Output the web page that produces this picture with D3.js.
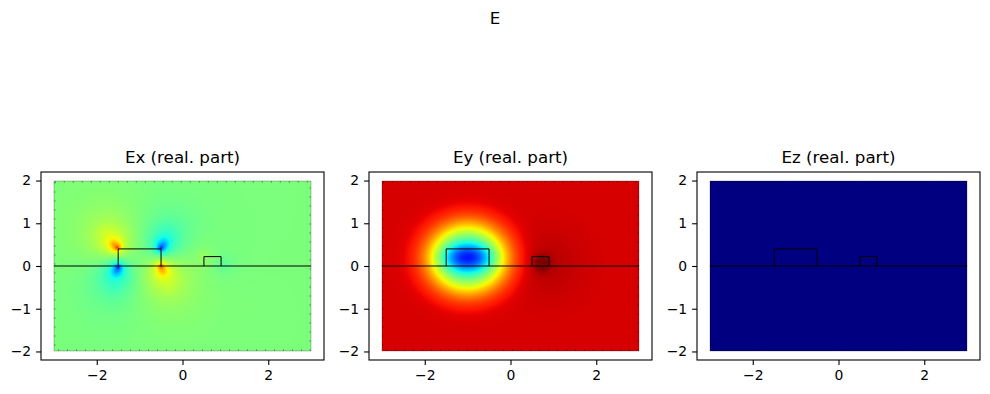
<!DOCTYPE html>
<html>
<head>
<meta charset="utf-8">
<script src="https://cdn.jsdelivr.net/npm/d3@7"></script>
<style>
  body { margin: 0; background: #fff; }
  svg text { font-family: "DejaVu Sans", sans-serif; fill: #000; }
</style>
</head>
<body>
<svg id="fig" width="990" height="394"></svg>
<script>
// panel titles
const titles = ["Ex (real. part)", "Ey (real. part)", "Ez (real. part)"]
const xTicks = [-2, 0, 2]
const yTicks = [-2, -1, 0, 1, 2]

// simulation box and structure outlines
const domainX = [-3, 3]
const domainY = [-2, 2]
const substrateY = 0
const bigRect = [-1.5, -0.5, 0, 0.4]     // x0, x1, y0, y1
const smallRect = [0.5, 0.9, 0, 0.22]

// field levels, in colour units (0 = bottom of jet, 1 = top)
const background = [0.5, 0.925, 0.0]

// Ex: lobes at the corners of the big block  [x, y, amp, decay]
const exSpots = [
  [-1.52, 0.43, 0.28, 0.08],
  [-1.62, 0.52, 0.19, 0.32],
  [-1.80, 0.80, 0.05, 0.60],
  [-1.50, -0.03, -0.28, 0.08],
  [-1.55, -0.14, -0.19, 0.33],
  [-1.60, -0.50, -0.04, 0.60],
  [-0.50, 0.42, -0.28, 0.08],
  [-0.43, 0.52, -0.19, 0.31],
  [-0.30, 0.80, -0.04, 0.60],
  [-0.50, -0.01, 0.26, 0.08],
  [-0.45, -0.14, 0.19, 0.35],
  [-0.30, -0.50, 0.04, 0.60],
  [0.52, 0.24, 0.04, 0.20],
  [0.95, 0.04, -0.05, 0.20]
]
// Ey: wide dip over the big block and a dark peak by the small one  [x, y, amp, sx, sy, power]
const eySpots = [
  [-1.0, 0.18, -0.55, 0.92, 0.82, 1.3],
  [-1.0, 0.20, -0.23, 0.55, 0.30, 1.0],
  [0.73, 0.06, 0.08, 0.20, 0.20, 1.0],
  [0.90, 0.05, 0.025, 0.80, 0.80, 1.0]
]

// matplotlib jet segments
const jetR = [[0, 0], [0.35, 0], [0.66, 1], [0.89, 1], [1, 0.5]]
const jetG = [[0, 0], [0.125, 0], [0.375, 1], [0.64, 1], [0.91, 0], [1, 0]]
const jetB = [[0, 0.5], [0.11, 1], [0.34, 1], [0.65, 0], [1, 0]]

const chan = seg => d3.scaleLinear().domain(seg.map(d => d[0])).range(seg.map(d => d[1])).clamp(true)
const r = chan(jetR), g = chan(jetG), b = chan(jetB)
const colour = d3.scaleLinear().domain([0, 1]).clamp(true)

function exField(x, y) {
  let v = background[0]
  exSpots.forEach(s => {
    const d = Math.hypot(x - s[0], y - s[1])
    v += s[2] * Math.exp(-d / s[3])
  })
  return v
}
function eyField(x, y) {
  let v = background[1]
  eySpots.forEach(s => {
    const dx = (x - s[0]) / s[3], dy = (y - s[1]) / s[4]
    v += s[2] * Math.exp(-Math.pow(dx * dx + dy * dy, s[5]))
  })
  return v
}
function ezField(x, y) { return background[2] }
const fields = [exField, eyField, ezField]

const svg = d3.select("#fig")

svg.append("text")
   .attr("x", 495).attr("y", 24)
   .attr("text-anchor", "middle")
   .attr("font-size", 16.7)
   .text("E")

const lefts = [41, 369, 697]
const axW = 283, axTop = 172, axH = 188
const minus = d => d < 0 ? "\u2212" + Math.abs(d) : d

lefts.forEach((left, i) => {
  const x = d3.scaleLinear().domain([-3.3, 3.3]).range([left, left + axW])
  const y = d3.scaleLinear().domain([-2.2, 2.2]).range([axTop + axH, axTop])

  // field image
  const px0 = Math.round(x(domainX[0])), px1 = Math.round(x(domainX[1]))
  const py0 = Math.round(y(domainY[1])), py1 = Math.round(y(domainY[0]))
  const w = px1 - px0, h = py1 - py0
  const cv = document.createElement("canvas")
  cv.width = w; cv.height = h
  const ctx = cv.getContext("2d")
  const img = ctx.createImageData(w, h)
  for (let j = 0; j < h; j++) {
    for (let k = 0; k < w; k++) {
      const v = colour(fields[i](x.invert(px0 + k + 0.5), y.invert(py0 + j + 0.5)))
      const o = (j * w + k) * 4
      img.data[o] = Math.round(r(v) * 255)
      img.data[o + 1] = Math.round(g(v) * 255)
      img.data[o + 2] = Math.round(b(v) * 255)
      img.data[o + 3] = 255
    }
  }
  ctx.putImageData(img, 0, 0)

  const panel = svg.append("g")
  panel.append("image")
       .attr("x", px0).attr("y", py0)
       .attr("width", w).attr("height", h)
       .attr("href", cv.toDataURL())

  // mesh boundary
  panel.append("rect")
       .attr("x", px0).attr("y", py0).attr("width", w).attr("height", h)
       .attr("fill", "none").attr("stroke", "#000").attr("stroke-opacity", 0.4)
       .attr("stroke-width", 0.6)
  panel.append("rect")
       .attr("x", px0 + 0.8).attr("y", py0 + 0.8).attr("width", w - 1.6).attr("height", h - 1.6)
       .attr("fill", "none").attr("stroke", "#000").attr("stroke-opacity", 0.5)
       .attr("stroke-width", 1.2).attr("stroke-dasharray", "1,8")

  // structure outlines
  panel.append("line")
       .attr("x1", x(domainX[0])).attr("x2", x(domainX[1]))
       .attr("y1", y(substrateY)).attr("y2", y(substrateY))
       .attr("stroke", "#000").attr("stroke-width", 1)
  ;[bigRect, smallRect].forEach(rc => {
    panel.append("path")
         .attr("d", d3.line()([[x(rc[0]), y(rc[2])], [x(rc[0]), y(rc[3])], [x(rc[1]), y(rc[3])], [x(rc[1]), y(rc[2])]]))
         .attr("fill", "none").attr("stroke", "#000").attr("stroke-width", 1)
  })

  // axes
  const xAxis = d3.axisBottom(x).tickValues(xTicks).tickSize(4.9).tickPadding(4.9).tickFormat(minus)
  const yAxis = d3.axisLeft(y).tickValues(yTicks).tickSize(4.9).tickPadding(4.9).tickFormat(minus)
  const gx = panel.append("g").attr("transform", `translate(0,${axTop + axH})`).call(xAxis)
  const gy = panel.append("g").attr("transform", `translate(${left},0)`).call(yAxis)
  ;[gx, gy].forEach(a => {
    a.select(".domain").remove()
    a.selectAll("text").attr("font-size", 13.9).attr("font-family", "DejaVu Sans").attr("fill", "#000")
    a.selectAll("line").attr("stroke", "#000").attr("stroke-width", 1.1)
  })

  panel.append("rect")
       .attr("x", left).attr("y", axTop).attr("width", axW).attr("height", axH)
       .attr("fill", "none").attr("stroke", "#000").attr("stroke-width", 1.1)

  panel.append("text")
       .attr("x", left + axW / 2).attr("y", axTop - 9)
       .attr("text-anchor", "middle")
       .attr("font-size", 16.7)
       .text(titles[i])
})
</script>
</body>
</html>
